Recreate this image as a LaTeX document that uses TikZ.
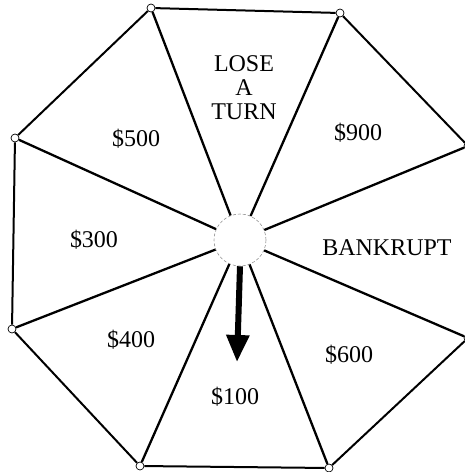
\documentclass[tikz,border=0pt]{standalone}
\usepackage{fontspec}
\setmainfont{Liberation Serif}
\usetikzlibrary{arrows.meta}
\definecolor{hubcol}{RGB}{150,150,150}

\begin{document}
\begin{tikzpicture}[
  x=1pt, y=-1pt,
  font=\fontsize{24}{24}\selectfont,
  rim/.style={
    circle,
    draw,
    fill=white,
    line width=0.7pt,
    minimum size=8pt,
    inner sep=0pt
  },
  hubnode/.style={
    circle,
    draw=hubcol,
    densely dashed,
    line width=0.6pt,
    fill=white,
    minimum size=52pt,
    inner sep=0pt
  },
  edge/.style={line width=2pt},
  spoke/.style={line width=2.3pt},
  pointer/.style={line width=6pt, -{Triangle[width=22pt,length=27pt]}},
  prize/.style={anchor=base, inner sep=0pt}
]
\useasboundingbox (0,0) rectangle (465,472);

% ========== Rim corners ==========
\node[rim] (rim-1) at (151,8) {};
\node[rim] (rim-2) at (340,13) {};
\node[rim] (rim-3) at (468,146) {};
\node[rim] (rim-4) at (468,338) {};
\node[rim] (rim-5) at (329,468) {};
\node[rim] (rim-6) at (140,466) {};
\node[rim] (rim-7) at (12,329) {};
\node[rim] (rim-8) at (15,138) {};

% ========== Hub ==========
\node[hubnode] (hub) at (240,240) {};

% Rim edges
\draw[edge] (rim-1) -- (rim-2);
\draw[edge] (rim-2) -- (rim-3);
\draw[edge] (rim-3) -- (rim-4);
\draw[edge] (rim-4) -- (rim-5);
\draw[edge] (rim-5) -- (rim-6);
\draw[edge] (rim-6) -- (rim-7);
\draw[edge] (rim-7) -- (rim-8);
\draw[edge] (rim-8) -- (rim-1);

% Spokes (hub to corners)
\draw[spoke] (hub) -- (rim-1);
\draw[spoke] (hub) -- (rim-2);
\draw[spoke] (hub) -- (rim-3);
\draw[spoke] (hub) -- (rim-4);
\draw[spoke] (hub) -- (rim-5);
\draw[spoke] (hub) -- (rim-6);
\draw[spoke] (hub) -- (rim-7);
\draw[spoke] (hub) -- (rim-8);

% Pointer
\coordinate (tip) at (237,362);
\draw[pointer] (hub.south) -- (tip);

% ========== Sector labels ==========
\node[align=center, inner sep=0pt] (lbl-lose) at (244,88) {LOSE\\A\\TURN};
\node[prize] (lbl-900) at (358,140) {\$900};
\node[prize] (lbl-bank) at (387,255) {BANKRUPT};
\node[prize] (lbl-600) at (349,362) {\$600};
\node[prize] (lbl-100) at (235,404) {\$100};
\node[prize] (lbl-400) at (131,347) {\$400};
\node[prize] (lbl-300) at (94,247) {\$300};
\node[prize] (lbl-500) at (136,146) {\$500};

\end{tikzpicture}
\end{document}
